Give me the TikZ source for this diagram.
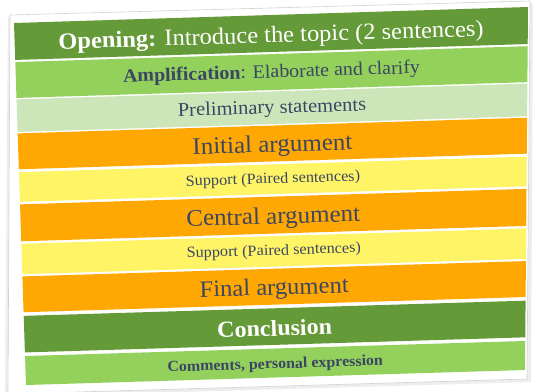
\documentclass[tikz,border=0pt]{standalone}
\usepackage{fontspec}
\setmainfont{Liberation Serif}[FakeStretch=1.05]
\usetikzlibrary{calc}
\definecolor{dkgreen}{HTML}{649A37}
\definecolor{ltgreen}{HTML}{94D05C}
\definecolor{palegreen}{HTML}{CDE6B9}
\definecolor{orng}{HTML}{FFA702}
\definecolor{yllw}{HTML}{FFF466}
\definecolor{txtdark}{HTML}{3B4663}
\newcommand\myband[4]{%
  \fill[#4] ($(TL)!#2!(BL)$) -- ($(TR)!#2!(BR)$) -- ($(TR)!#3!(BR)$) -- ($(TL)!#3!(BL)$) -- cycle;
  \coordinate (#1) at ($($(TL)!{(#2+#3)/2}!(BL)$)!0.5!($(TR)!{(#2+#3)/2}!(BR)$)$);
}
\begin{document}
\begin{tikzpicture}[x=1pt,y=-1pt,
  lbl/.style={rotate=1.75, inner sep=0pt, text=txtdark, anchor=base},
  lblw/.style={lbl, text=white}]
\useasboundingbox (0,0) rectangle (534,391);
\fill[white] (0,0) rectangle (534,391);
% paper with shadow
\fill[gray!14] (8,17) -- (533,3) -- (531,382) -- (5,397) -- cycle;
\fill[white, draw=gray!35, line width=0.6pt] (10,15) -- (530,1) -- (527,379) -- (8,394) -- cycle;
% corners of the band stack
\coordinate (TL) at (14,23);
\coordinate (TR) at (528,7);
\coordinate (BL) at (26,385);
\coordinate (BR) at (525,370);
\myband{c1}{0}{0.102}{dkgreen}
\myband{c2}{0.108}{0.207}{ltgreen}
\myband{c3}{0.211}{0.301}{palegreen}
\myband{c4}{0.305}{0.404}{orng}
\myband{c5}{0.412}{0.494}{yllw}
\myband{c6}{0.501}{0.603}{orng}
\myband{c7}{0.610}{0.694}{yllw}
\myband{c8}{0.700}{0.799}{orng}
\myband{c9}{0.809}{0.910}{dkgreen}
\myband{c10}{0.920}{1}{ltgreen}
\node[lblw, font=\fontsize{23.3}{26}\selectfont] (t1) at ($(c1)+(0,9.2)$) {\textbf{Opening:} Introduce the topic (2 sentences)};
\node[lbl, font=\fontsize{19}{22}\selectfont] (t2) at ($(c2)+(0,5.8)$) {\textbf{Amplification}: Elaborate and clarify};
\node[lbl, font=\fontsize{19.5}{22}\selectfont] (t3) at ($(c3)+(0,5.7)$) {Preliminary statements};
\node[lbl, font=\fontsize{23.8}{26}\selectfont] (t4) at ($(c4)+(0,8.6)$) {Initial argument};
\node[lbl, font=\fontsize{15.5}{18}\selectfont] (t5) at ($(c5)+(0,4.2)$) {Support (Paired sentences)};
\node[lbl, font=\fontsize{23.8}{26}\selectfont] (t6) at ($(c6)+(0,8.7)$) {Central argument};
\node[lbl, font=\fontsize{15.5}{18}\selectfont] (t7) at ($(c7)+(0,3.9)$) {Support (Paired sentences)};
\node[lbl, font=\fontsize{23.4}{26}\selectfont] (t8) at ($(c8)+(0,8.3)$) {Final argument};
\node[lblw, font=\bfseries\fontsize{22.9}{26}\selectfont] (t9) at ($(c9)+(0,9.4)$) {Conclusion};
\node[lbl, font=\bfseries\fontsize{15.2}{18}\selectfont] (t10) at ($(c10)+(0,5.6)$) {Comments, personal expression};
\end{tikzpicture}
\end{document}
